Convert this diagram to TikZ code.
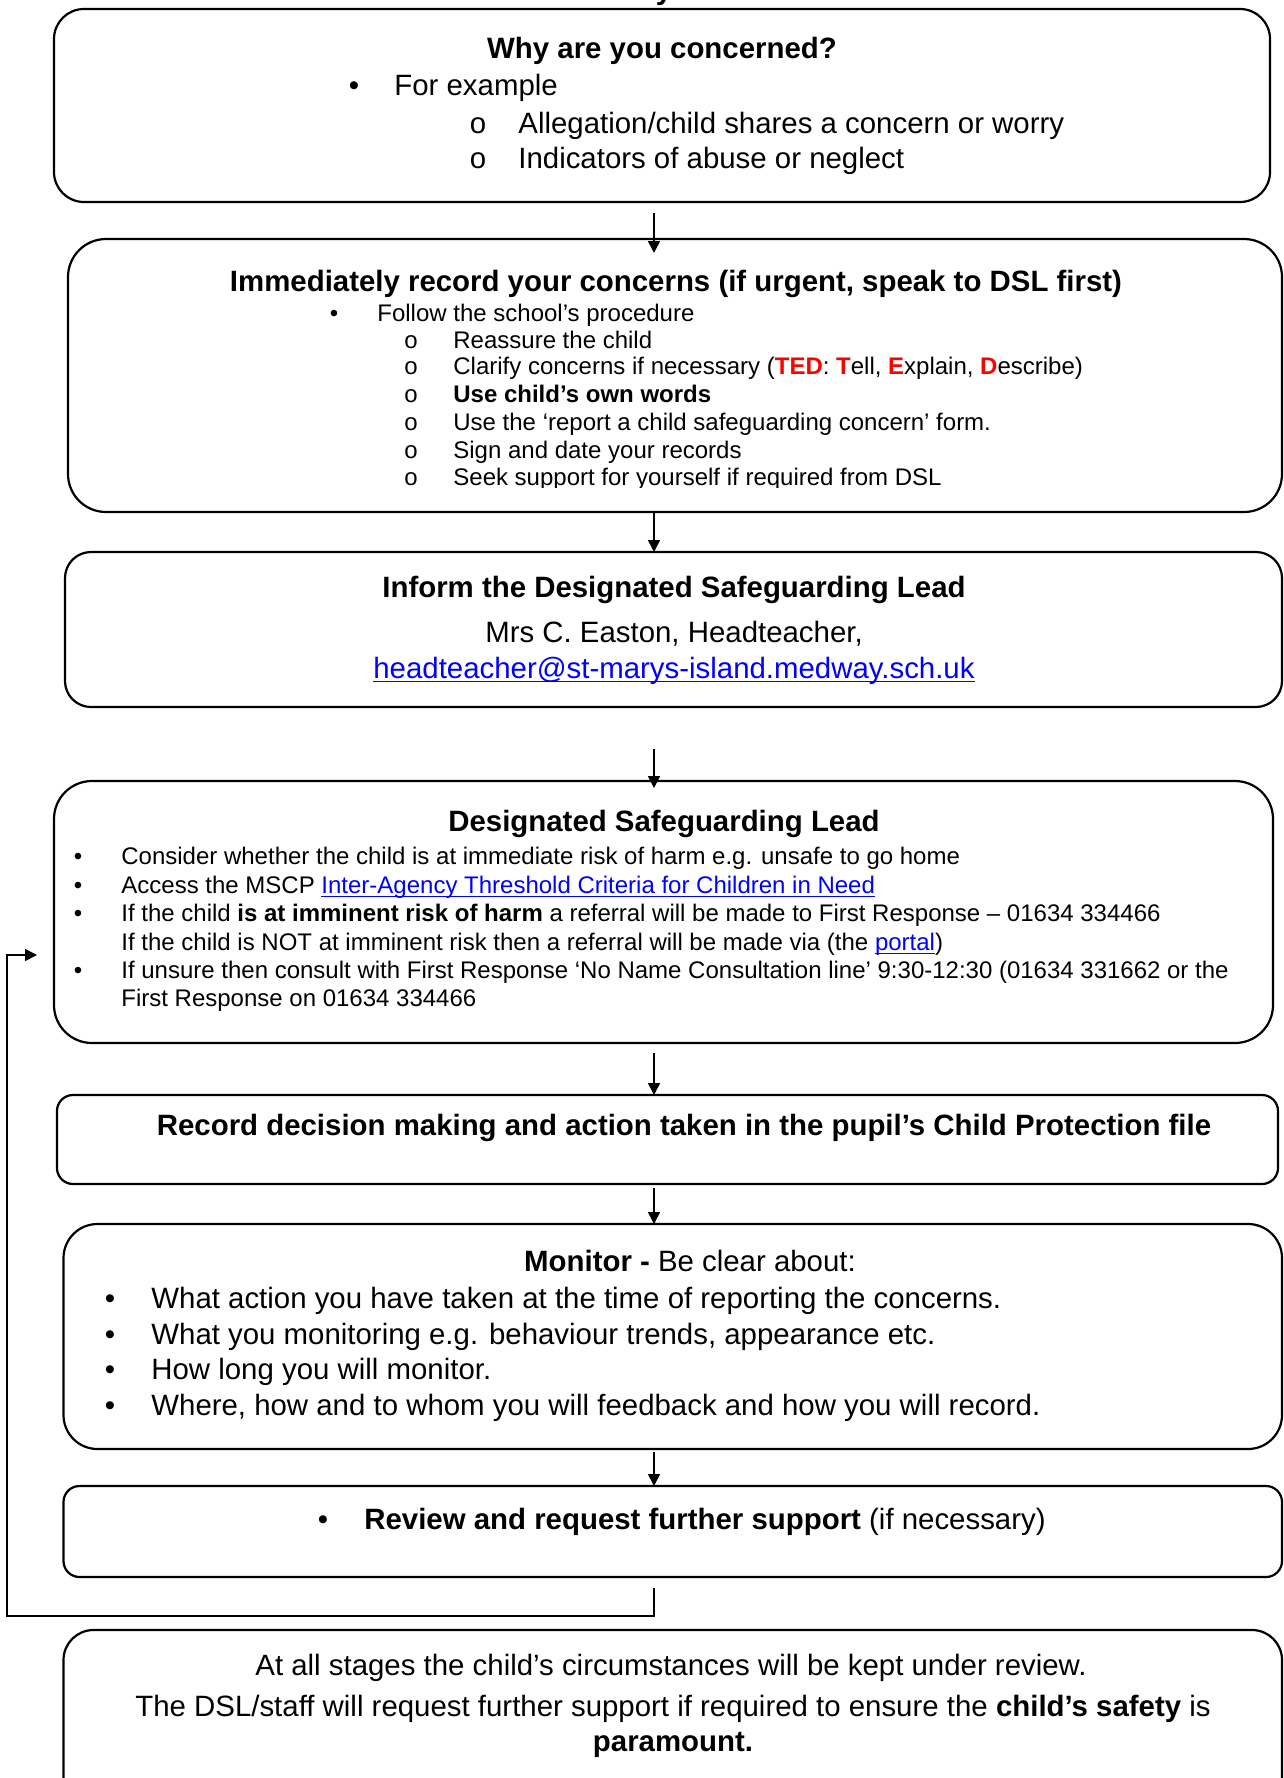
\documentclass[tikz,border=0pt]{standalone}
\usepackage{fontspec}
\setmainfont{Liberation Sans}
\usetikzlibrary{arrows.meta}
\definecolor{linkblue}{RGB}{0,0,255}
\definecolor{tedred}{RGB}{255,0,0}
\newsavebox\ulbox
\newcommand\ulink[1]{{\color{linkblue}\sbox\ulbox{#1}\rlap{\rule[-1.8pt]{\wd\ulbox}{0.6pt}}\usebox\ulbox}}
\newcommand\fsA{\fontsize{12}{14}\selectfont}
\newcommand\fsB{\fontsize{14.7}{17}\selectfont}
\newcommand\red[1]{\textcolor{tedred}{\textbf{#1}}}
\begin{document}
\begin{tikzpicture}[x=0.5pt,y=-0.5pt,
 box/.style={draw,line width=1.1pt,inner sep=0pt,outer sep=0pt},
 conn/.style={line width=0.75pt,-{Triangle[length=6pt,width=6pt]}},
 tl/.style={inner sep=0pt,anchor=mid west,font=\fsA,yshift=-0.8pt},
 tb/.style={inner sep=0pt,anchor=mid west,font=\fsB,yshift=-2pt},
 tc/.style={inner sep=0pt,anchor=mid,font=\fsB,yshift=-2pt},
 bulA/.style={inner sep=0pt,anchor=mid,font=\fsA,yshift=-0.8pt},
 bulB/.style={inner sep=0pt,anchor=mid,font=\fsB,yshift=-2pt},
]
\useasboundingbox (0,0) rectangle (1284,1778);
\clip (0,0) rectangle (1284,1778);
\fill[white] (0,0) rectangle (1284,1778);

% cut-off heading fragment at top
\node[inner sep=0pt,anchor=base,font=\fsB\bfseries] (frag) at (664,-1) {y};

% boxes
\node[box,minimum width=608pt,minimum height=96.5pt,rounded corners=15pt] (b1) at (662,105.5) {};
\node[box,minimum width=607pt,minimum height=136.5pt,rounded corners=19pt] (b2) at (675,375.5) {};
\node[box,minimum width=608.5pt,minimum height=77.5pt,rounded corners=13pt] (b3) at (673.5,629.5) {};
\node[box,minimum width=609.5pt,minimum height=131pt,rounded corners=19pt] (b4) at (663.5,912) {};
\node[box,minimum width=610.5pt,minimum height=44.5pt,rounded corners=8pt] (b5) at (667.5,1139.5) {};
\node[box,minimum width=609.25pt,minimum height=112.5pt,rounded corners=17pt] (b6) at (672.75,1336.5) {};
\node[box,minimum width=609.25pt,minimum height=45.5pt,rounded corners=8pt] (b7) at (672.75,1531.5) {};
\node[box,minimum width=609.25pt,minimum height=90pt,rounded corners=15pt] (b8) at (672.75,1720) {};

% box 1
\node[tc,font=\fsB\bfseries] (t1) at (662,49) {Why are you concerned?};
\node[bulB] (t1b) at (354,86) {•};
\node[tb] (t1a) at (394,86) {For example};
\node[bulB] (t1o1) at (478,124) {o};
\node[tb] (t1c) at (518,124) {Allegation/child shares a concern or worry};
\node[bulB] (t1o2) at (478,159) {o};
\node[tb] (t1d) at (518,159) {Indicators of abuse or neglect};

% box 2
\node[tc,font=\fsB\bfseries] (t2) at (676,282) {Immediately record your concerns (if urgent, speak to DSL first)};
\node[bulA] (t2b) at (334,315) {•};
\node[tl] (t2a) at (377,315) {Follow the school’s procedure};
\begin{scope}
\clip (0,0) rectangle (1284,487);
\foreach \yy/\nm in {342/1,368/2,396/3,424/4,452/5,479/6}{
  \node[bulA] (t2o\nm) at (411,\yy) {o};
}
\node[tl] (t2c1) at (453,342) {Reassure the child};
\node[tl] (t2c2) at (453,368) {Clarify concerns if necessary (\red{TED}: \red{T}ell, \red{E}xplain, \red{D}escribe)};
\node[tl] (t2c3) at (453,396) {\textbf{Use child’s own words}};
\node[tl] (t2c4) at (453,424) {Use the ‘report a child safeguarding concern’ form.};
\node[tl] (t2c5) at (453,452) {Sign and date your records};
\node[tl] (t2c6) at (453,479) {Seek support for yourself if required from DSL};
\end{scope}

% box 3
\node[tc,font=\fsB\bfseries] (t3) at (674,588) {Inform the Designated Safeguarding Lead};
\node[tc] (t3a) at (674,633) {Mrs C. Easton, Headteacher,};
\node[tc] (t3b) at (674,669) {\ulink{headteacher@st-marys-island.medway.sch.uk}};

% box 4
\node[tc,font=\fsB\bfseries] (t4) at (664,822) {Designated Safeguarding Lead};
\node[bulA] (t4b1) at (78,858) {•};
\node[tl] (t4a) at (121,858) {Consider whether the child is at immediate risk of harm e.g. unsafe to go home};
\node[bulA] (t4b2) at (78,887) {•};
\node[tl] (t4c) at (121,887) {Access the MSCP \ulink{Inter-Agency Threshold Criteria for Children in Need}};
\node[bulA] (t4b3) at (78,915) {•};
\node[tl] (t4d) at (121,915) {If the child \textbf{is at imminent risk of harm} a referral will be made to First Response – 01634 334466};
\node[tl] (t4e) at (121,944) {If the child is NOT at imminent risk then a referral will be made via (the \ulink{portal})};
\node[bulA] (t4b5) at (78,972) {•};
\node[tl] (t4f) at (121,972) {If unsure then consult with First Response ‘No Name Consultation line’ 9:30-12:30 (01634 331662 or the};
\node[tl] (t4g) at (121,1000) {First Response on 01634 334466};

% box 5
\node[tc,font=\fsB\bfseries] (t5) at (684,1126) {Record decision making and action taken in the pupil’s Child Protection file};

% box 6
\node[tc] (t6) at (690,1262) {\textbf{Monitor -} Be clear about:};
\node[bulB] (t6b1) at (110,1299) {•};
\node[tb] (t6a) at (151,1299) {What action you have taken at the time of reporting the concerns.};
\node[bulB] (t6b2) at (110,1335) {•};
\node[tb] (t6c) at (151,1335) {What you monitoring e.g. behaviour trends, appearance etc.};
\node[bulB] (t6b3) at (110,1370) {•};
\node[tb] (t6d) at (151,1370) {How long you will monitor.};
\node[bulB] (t6b4) at (110,1406) {•};
\node[tb] (t6e) at (151,1406) {Where, how and to whom you will feedback and how you will record.};

% box 7
\node[bulB] (t7b) at (323,1520) {•};
\node[tb] (t7) at (364,1520) {\textbf{Review and request further support} (if necessary)};

% box 8
\node[tc] (t8a) at (671,1666) {At all stages the child’s circumstances will be kept under review.};
\node[tc] (t8b) at (673,1707) {The DSL/staff will request further support if required to ensure the \textbf{child’s safety} is};
\node[tc,font=\fsB\bfseries] (t8c) at (673,1742) {paramount.};

% connectors
\coordinate (s1) at (654,213);
\coordinate (s2) at (654,513);
\coordinate (s3) at (654,749);
\coordinate (s4) at (654,1053);
\coordinate (s5) at (654,1188);
\coordinate (s6) at (654,1452);
\draw[conn,shorten >=-7pt] (s1) -- (s1 |- b2.north);
\draw[conn] (s2) -- (s2 |- b3.north);
\draw[conn,shorten >=-3.5pt] (s3) -- (s3 |- b4.north);
\draw[conn] (s4) -- (s4 |- b5.north);
\draw[conn] (s5) -- (s5 |- b6.north);
\draw[conn] (s6) -- (s6 |- b7.north);

% feedback loop
\coordinate (f0) at (654,1588);
\coordinate (fc) at (7,1616);
\coordinate (ftip) at (37,955);
\draw[conn] (f0) |- (fc) |- (ftip);
\end{tikzpicture}
\end{document}
